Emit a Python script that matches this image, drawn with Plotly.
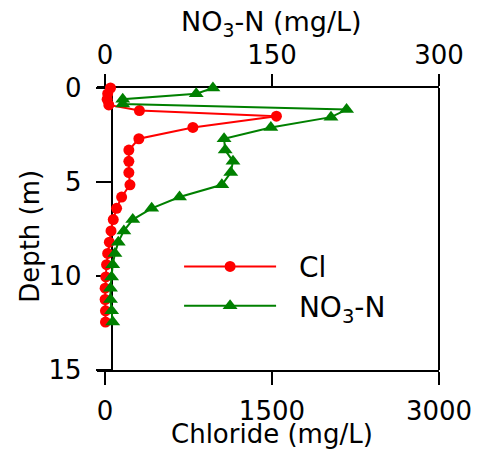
import plotly.graph_objects as go

# Depth profiles
depth_cl = [0, 0.3, 0.6, 0.9, 1.2, 1.5, 2.1, 2.7, 3.3, 3.9, 4.5, 5.15, 5.8, 6.4, 7.0,
            7.6, 8.2, 8.8, 9.4, 10.05, 10.65, 11.25, 11.85, 12.45]
chloride = [50, 25, 20, 35, 310, 1540, 790, 305, 215, 215, 215, 225, 150, 105, 75,
            55, 40, 25, 15, 8, 2, 2, 5, 5]

depth_no3 = [0, 0.3, 0.6, 0.85, 1.15, 1.55, 2.1, 2.7, 3.3, 3.9, 4.5, 5.15, 5.8, 6.4, 7.0,
             7.6, 8.2, 8.8, 9.4, 10.05, 10.65, 11.25, 11.85, 12.45]
no3n = [97, 82, 16, 16, 217, 203, 149, 107, 108, 115, 113, 105, 67, 42, 25,
        17, 12, 9, 7, 6, 5, 5, 6, 7]

cl_ticks = [0, 1500, 3000]
no3_ticks = [0, 150, 300]
depth_ticks = [0, 5, 10, 15]

FONT = "DejaVu Sans"
NBSP = "\u00a0"

fig = go.Figure()
fig.add_trace(go.Scatter(
    x=chloride, y=depth_cl, name=NBSP * 2 + "Cl", mode="lines+markers",
    line=dict(color="#FF0000", width=2),
    marker=dict(symbol="circle", size=11, color="#FF0000"),
    cliponaxis=False, xaxis="x", yaxis="y",
))
fig.add_trace(go.Scatter(
    x=no3n, y=depth_no3, name=NBSP * 2 + "NO<sub>3</sub>-N", mode="lines+markers",
    line=dict(color="#008000", width=2),
    marker=dict(symbol="triangle-up", size=13, color="#008000"),
    cliponaxis=False, xaxis="x2", yaxis="y",
))

axis_common = dict(showline=True, linecolor="black", linewidth=2, ticks="outside",
                   tickcolor="black", tickwidth=2, showgrid=False, zeroline=False,
                   tickfont=dict(family=FONT, size=26, color="black"), layer="below traces")

fig.update_layout(
    width=484, height=452,
    margin=dict(l=97, r=41, t=88, b=82),
    paper_bgcolor="white", plot_bgcolor="white",
    showlegend=True,
    xaxis=dict(range=[-71, 3000], tickvals=cl_ticks, ticklen=13, domain=[0, 1],
               anchor="y", ticklabelstandoff=4, **axis_common),
    xaxis2=dict(range=[-7.1, 300], tickvals=no3_ticks, ticklen=12, overlaying="x",
                side="top", anchor="y", ticklabelstandoff=0, **axis_common),
    yaxis=dict(range=[15, 0], tickvals=depth_ticks, ticklen=15, anchor="free",
               position=15 / 346, ticklabelstandoff=9, **axis_common),
    legend=dict(x=0.24, y=0.455, xanchor="left", yanchor="top", itemwidth=92,
                bgcolor="rgba(0,0,0,0)", traceorder="normal",
                font=dict(family=FONT, size=28, color="black")),
    shapes=[
        # right frame line of the plot box
        dict(type="line", xref="paper", yref="paper", x0=1, x1=1, y0=0, y1=1,
             line=dict(color="black", width=2), layer="below"),
    ],
    annotations=[
        dict(text="Chloride (mg/L)", xref="x", x=1500, yref="paper", y=-0.228,
             xanchor="center", yanchor="middle", showarrow=False, borderpad=0,
             font=dict(family=FONT, size=26, color="black")),
        dict(text="NO<sub>3</sub>-N (mg/L)", xref="x2", x=150, yref="paper", y=1.23,
             xanchor="center", yanchor="middle", showarrow=False,
             font=dict(family=FONT, size=27, color="black")),
        dict(text="Depth (m)", xref="paper", x=-0.1965, yref="paper", y=0.475,
             xanchor="center", yanchor="middle", textangle=-90, showarrow=False,
             font=dict(family=FONT, size=26, color="black")),
    ],
)

fig.write_html("out.html")
